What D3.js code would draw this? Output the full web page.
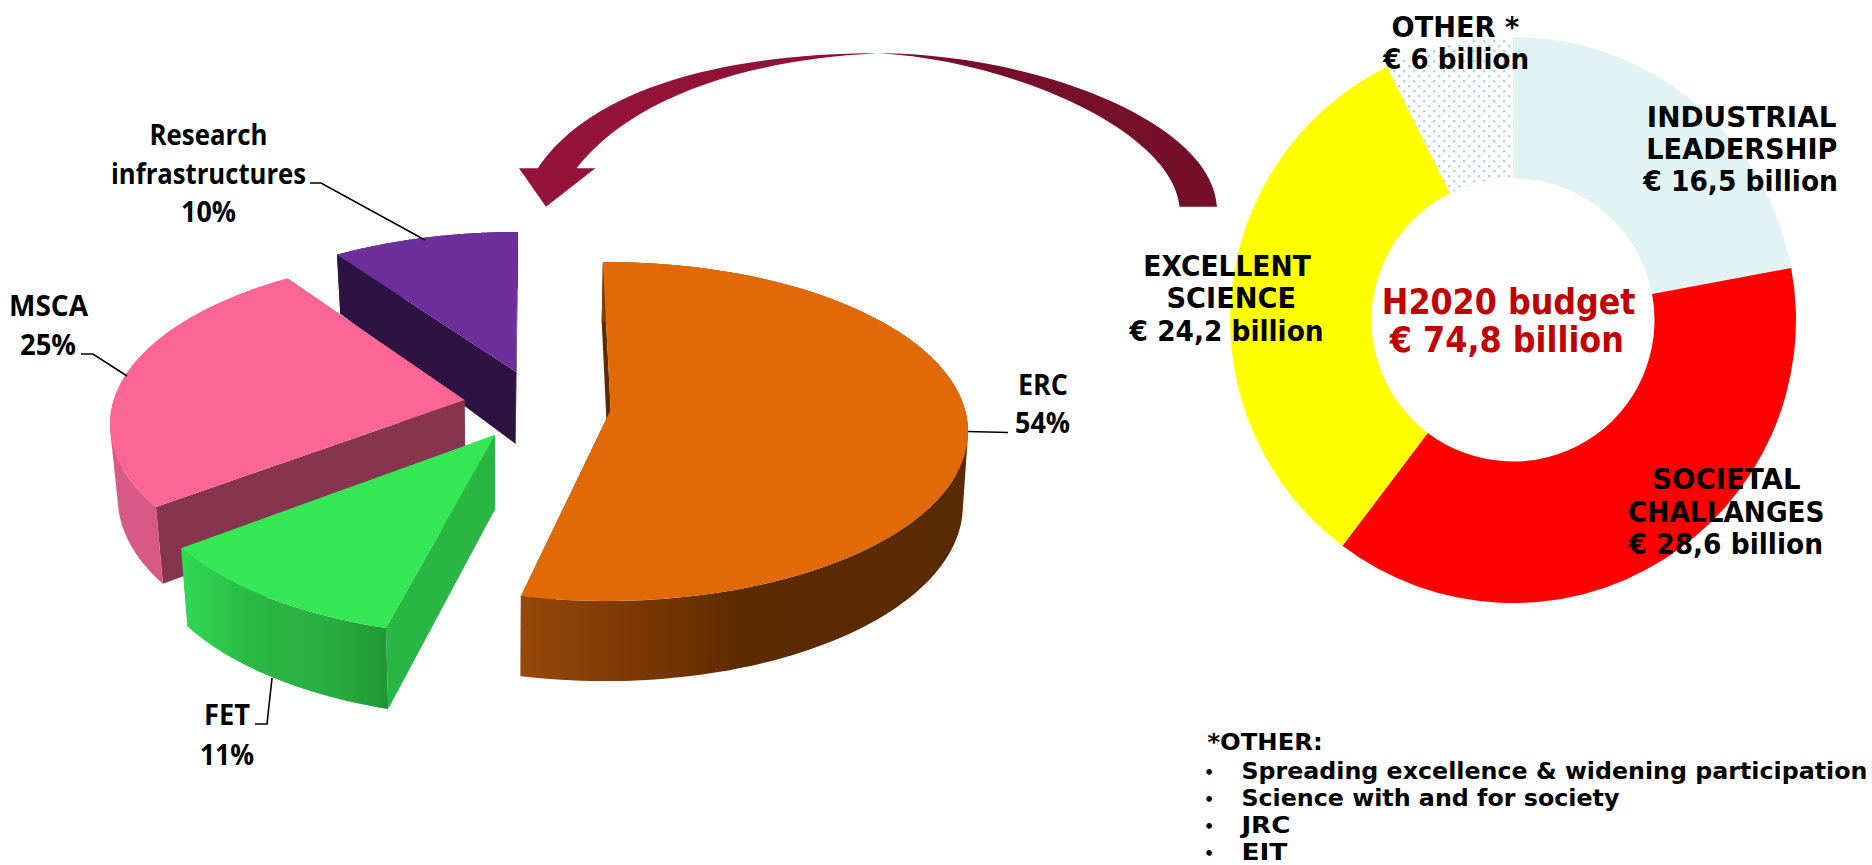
<!DOCTYPE html>
<html>
<head>
<meta charset="utf-8">
<style>
  html, body { margin: 0; background: #fff; overflow: hidden; }
  svg { display: block; }
  .calibri { font-family: "Open Sans", Lato, sans-serif; font-weight: 700; fill: #000; }
  .verdana { font-family: "DejaVu Sans", sans-serif; font-weight: 700; fill: #000; }
</style>
</head>
<body>
<svg id="chart" width="1872" height="865"></svg>
<script src="https://cdn.jsdelivr.net/npm/d3@7/dist/d3.min.js"></script>
<script>
// budget split of excellent science, clockwise from 12 o'clock
const scienceNames = ["ERC", "FET", "MSCA", "Research infrastructures"];
const scienceShare = [54, 11, 25, 10];

// H2020 budget, billion euro (OTHER is printed rounded as 6, its slice is about 5.5)
const budgetNames = ["INDUSTRIAL LEADERSHIP", "SOCIETAL CHALLANGES", "EXCELLENT SCIENCE", "OTHER"];
const budgetValues = [16.5, 28.6, 24.2, 5.5];
const budgetTexts = ["€ 16,5 billion", "€ 28,6 billion", "€ 24,2 billion", "€ 6 billion"];
const otherItems = ["Spreading excellence & widening participation", "Science with and for society", "JRC", "EIT"];

const width = 1872, height = 865;
const svg = d3.select("#chart");
const defs = svg.append("defs");

function gradient(id, x1, x2, stops) {
  const g = defs.append("linearGradient").attr("id", id)
    .attr("gradientUnits", "userSpaceOnUse")
    .attr("x1", x1).attr("x2", x2).attr("y1", 0).attr("y2", 0);
  stops.forEach(s => g.append("stop").attr("offset", s[0]).attr("stop-color", s[1]));
}
gradient("wallERC", 521, 968, [[0, "#97480a"], [0.22, "#7f3b03"], [0.5, "#5c2b00"], [1, "#5a2a00"]]);
gradient("wallFET", 186, 389, [[0, "#2fd851"], [0.3, "#2aba46"], [0.75, "#28ab40"], [1, "#1f9733"]]);
gradient("wallMSCA", 100, 165, [[0, "#d95c8a"], [1, "#d75882"]]);
gradient("arrowFill", 520, 1218, [[0, "#95133a"], [0.45, "#8f1236"], [0.62, "#780f2c"], [1, "#730f2a"]]);

// dotted fill of the OTHER slice
const dots = defs.append("pattern").attr("id", "dots")
  .attr("patternUnits", "userSpaceOnUse").attr("width", 10).attr("height", 10);
dots.append("rect").attr("x", 0).attr("y", 0).attr("width", 2.4).attr("height", 2.4).attr("fill", "#aed7dd");
dots.append("rect").attr("x", 5).attr("y", 5).attr("width", 2.4).attr("height", 2.4).attr("fill", "#aed7dd");

// ---- exploded 3D pie ----
// every slice sits on its own ellipse, the apex is off centre because of the perspective
const sliceLook = [
  { cx: 606, cy: 431.5, ax: 610.7, ay: 410, lean: 0.011, shift: [-0.5, -0.8], top: "#e16a07", wall: "url(#wallERC)", face: "#5a2a00" },
  { cx: 499, cy: 467, ax: 495, ay: 435, lean: 0.02, shift: [3.8, 7.4], top: "#35e655", wall: "url(#wallFET)", face: "#29b644" },
  { cx: 472, cy: 424.3, ax: 464.5, ay: 400, lean: 0.02, shift: [6.8, 5.4], top: "#fe6597", wall: "url(#wallMSCA)", face: "#87354f" },
  { cx: 518, cy: 401.5, ax: 516, ay: 372, lean: 0.02, shift: [6, 0], top: "#6e2e9b", wall: "#2d1242", face: "#2d1242" }
];
const rx = 362, ry = 169.5;
const depth = d3.scaleLinear().domain([255, 372, 626]).range([59, 72, 81]);
const line = d3.line();

const scienceArcs = d3.pie().sort(null).value(d => d)(scienceShare);

const slices = scienceArcs.map((a, i) => {
  const look = sliceLook[i];
  const t0 = a.startAngle + look.shift[0] * Math.PI / 180;
  const t1 = a.endAngle + look.shift[1] * Math.PI / 180;
  const rim = d3.range(0, 121).map(k => {
    const t = t0 + (t1 - t0) * k / 120;
    return [look.cx + rx * Math.sin(t), look.cy - ry * Math.cos(t)];
  });
  return { look, rim, apex: [look.ax, look.ay], name: scienceNames[i] };
});

// back to front
[3, 2, 1, 0].forEach(i => {
  const s = slices[i];
  const g = svg.append("g").attr("class", "slice").attr("data-name", s.name);
  const drop = ([x, y]) => [x + (500 - x) * s.look.lean, y + depth(y)];
  const first = s.rim[0], last = s.rim[s.rim.length - 1];
  g.append("path").attr("fill", s.look.face)
    .attr("d", line([first, s.apex, drop(s.apex), drop(first)]) + "Z");
  g.append("path").attr("fill", s.look.face)
    .attr("d", line([last, s.apex, drop(s.apex), drop(last)]) + "Z");
  // outer wall as quads of one winding, so the silhouette between both rims is filled too
  const wall = d3.pairs(s.rim).map(([p, q]) => {
    const quad = [p, q, drop(q), drop(p)];
    if (d3.polygonArea(quad) < 0) quad.reverse();
    return line(quad) + "Z";
  }).join("");
  g.append("path").attr("fill", s.look.wall).attr("d", wall);
  g.append("path").attr("fill", s.look.top)
    .attr("d", line([s.apex].concat(s.rim)) + "Z");
});

// leader lines
const leaders = [
  [[310, 183], [321, 183], [425, 240]],
  [[81, 354], [93, 354], [127, 376]],
  [[968, 431.5], [1008, 432.5]],
  [[255, 724], [267, 724], [272, 678]]
];
svg.append("g").selectAll("path").data(leaders).join("path")
  .attr("d", d => line(d)).attr("fill", "none").attr("stroke", "#000").attr("stroke-width", 1.6);

// pie labels: text, left edge, baseline, width
const pieLabels = [
  ["Research", 149.5, 144.7, 118],
  ["infrastructures", 111, 184, 195],
  [scienceShare[3] + "%", 181, 222, 55],
  ["MSCA", 9, 316, 79],
  [scienceShare[2] + "%", 20, 355, 56],
  ["ERC", 1018, 394.5, 50],
  [scienceShare[0] + "%", 1015, 433, 55],
  ["FET", 204, 725, 46],
  [scienceShare[1] + "%", 200, 764.6, 54]
];
svg.append("g").attr("class", "calibri").attr("font-size", 29)
  .selectAll("text").data(pieLabels).join("text")
  .attr("x", d => d[1]).attr("y", d => d[2])
  .attr("textLength", d => d[3]).attr("lengthAdjust", "spacingAndGlyphs")
  .text(d => d[0]);

// ---- curved arrow between the two charts ----
const arrow = d3.path();
arrow.moveTo(1217, 206.7);
arrow.bezierCurveTo(1212, 120, 1030, 53.3, 877.5, 53.3);
arrow.bezierCurveTo(720, 53.3, 590, 90, 537.8, 168.3);
arrow.lineTo(519, 168.3);
arrow.lineTo(546, 206.7);
arrow.lineTo(595.3, 168.3);
arrow.lineTo(576.5, 168.3);
arrow.bezierCurveTo(630, 100, 740, 60, 877.5, 53.3);
arrow.bezierCurveTo(1010, 60, 1172, 130, 1179.6, 206.7);
arrow.closePath();
svg.append("path").attr("fill", "url(#arrowFill)").attr("d", arrow.toString());

// ---- donut ----
const donutX = 1513, donutY = 320, outerR = 283, innerR = 141.5;
const budgetFill = d3.scaleOrdinal().domain(budgetNames).range(["#e2f3f4", "#ff0000", "#ffff00", "url(#dots)"]);
const budgetArc = d3.arc().innerRadius(innerR).outerRadius(outerR);
svg.append("g").attr("transform", `translate(${donutX},${donutY})`)
  .selectAll("path")
  .data(d3.pie().sort(null).value(d => d)(budgetValues))
  .join("path")
  .attr("fill", (d, i) => budgetFill(budgetNames[i]))
  .attr("d", budgetArc);

// donut labels: text, left edge, baseline, width
const donutLabels = [
  ["OTHER *", 1391.6, 36.5, 127.6],
  [budgetTexts[3], 1383.3, 68.5, 145.7],
  ["INDUSTRIAL", 1646.8, 127, 189.7],
  ["LEADERSHIP", 1646.3, 159, 191.1],
  [budgetTexts[0], 1643.3, 190.6, 194.7],
  ["EXCELLENT", 1143.3, 275.7, 167.5],
  ["SCIENCE", 1166.5, 308, 129.5],
  [budgetTexts[2], 1129.6, 341, 194],
  ["SOCIETAL", 1652.2, 489, 148.3],
  ["CHALLANGES", 1628, 522, 196.6],
  [budgetTexts[1], 1628.6, 554, 194.4]
];
svg.append("g").attr("class", "verdana").attr("font-size", 28.5)
  .selectAll("text").data(donutLabels).join("text")
  .attr("x", d => d[1]).attr("y", d => d[2])
  .attr("textLength", d => d[3]).attr("lengthAdjust", "spacingAndGlyphs")
  .text(d => d[0]);

const total = [["H2020 budget", 1381.8, 314, 253.7], ["€ 74,8 billion", 1389.7, 352, 234.3]];
svg.append("g").attr("class", "verdana").attr("font-size", 35)
  .selectAll("text").data(total).join("text")
  .style("fill", "#c00000")
  .attr("x", d => d[1]).attr("y", d => d[2])
  .attr("textLength", d => d[3]).attr("lengthAdjust", "spacingAndGlyphs")
  .text(d => d[0]);

// footnote
const note = svg.append("g").attr("class", "verdana").attr("font-size", 22.5);
note.append("text").attr("x", 1207.4).attr("y", 750).attr("textLength", 115.3)
  .attr("lengthAdjust", "spacingAndGlyphs").text("*OTHER:");
const noteWidths = [626, 378, 49, 46];
const noteY = d3.scalePoint().domain(otherItems).range([779, 859.5]);
otherItems.forEach((item, i) => {
  note.append("text").attr("x", 1204).attr("y", noteY(item) - 1).attr("font-size", 16).text("•");
  note.append("text").attr("x", 1241.4).attr("y", noteY(item))
    .attr("textLength", noteWidths[i]).attr("lengthAdjust", "spacingAndGlyphs").text(item);
});
</script>
</body>
</html>
